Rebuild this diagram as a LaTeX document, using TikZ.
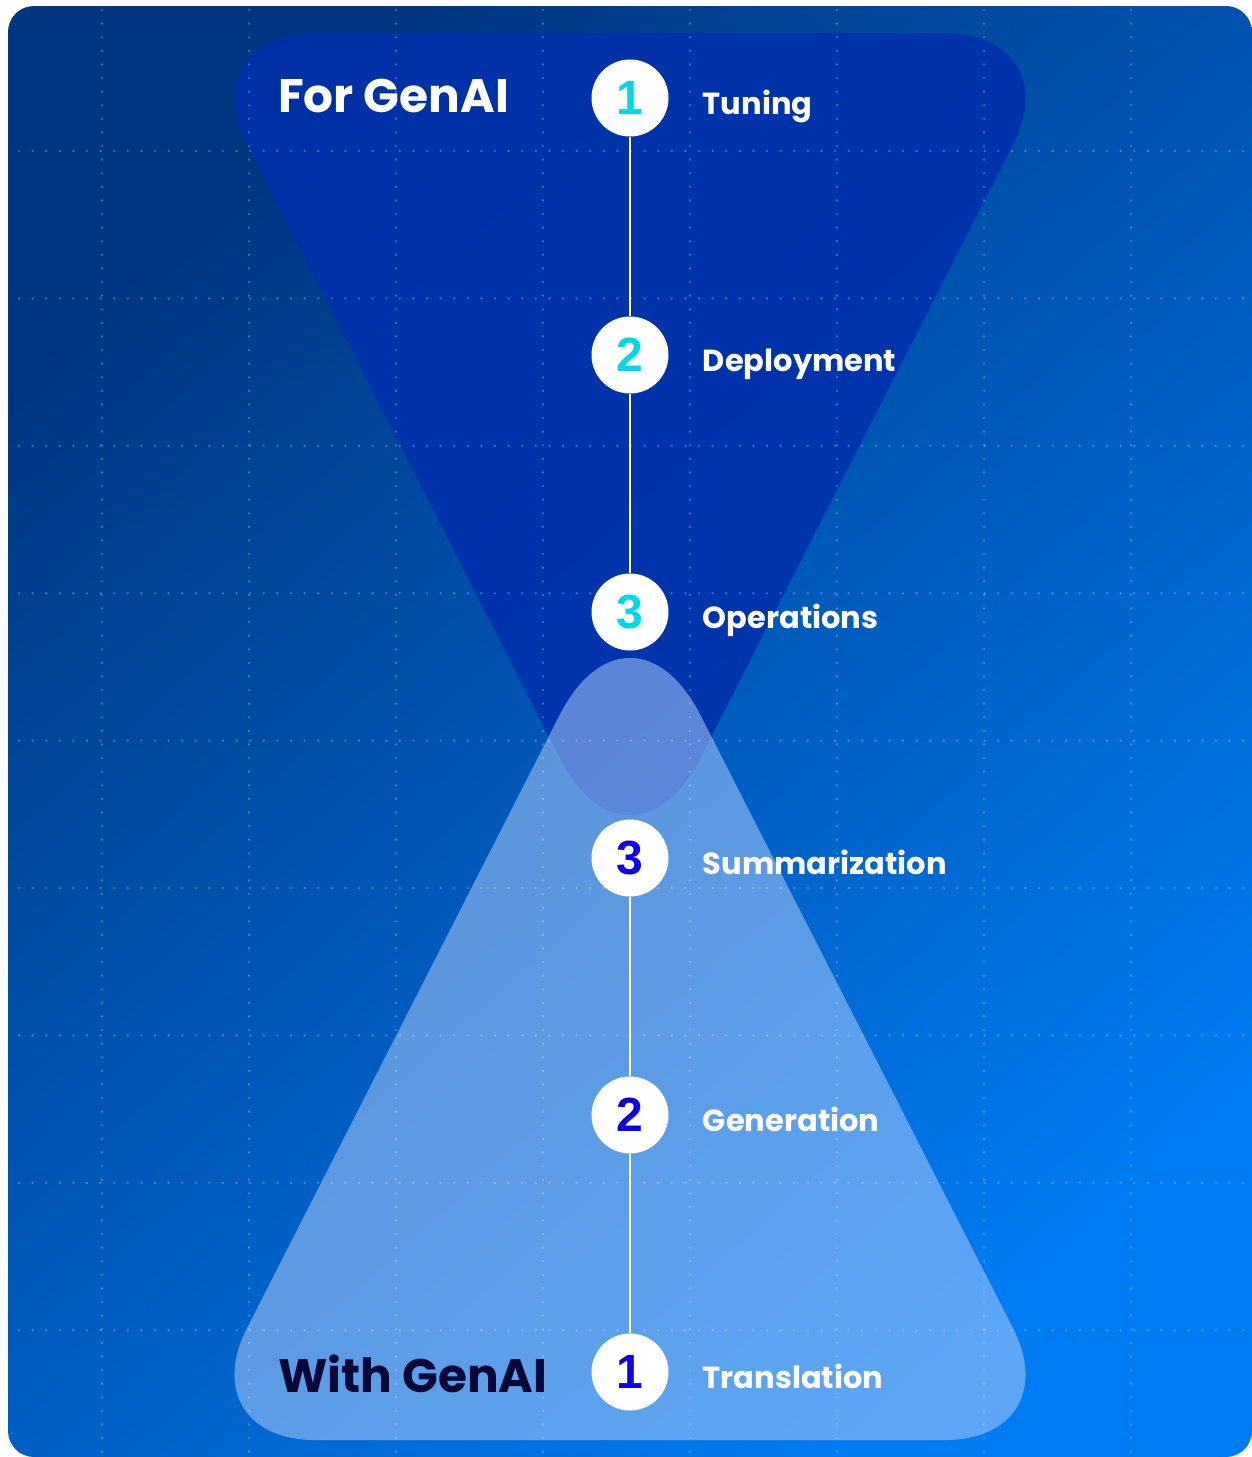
\documentclass[tikz,border=0pt]{standalone}
\usepackage{fontspec}
\setmainfont{Poppins}
\newfontfamily\digitfont{Liberation Sans}
\usetikzlibrary{positioning}

\definecolor{bgdark}{RGB}{0,54,128}
\definecolor{bglight}{RGB}{0,124,242}
\definecolor{funneltop}{RGB}{0,48,172}
\definecolor{funnelbot}{RGB}{169,201,249}
\definecolor{numcyan}{RGB}{0,216,230}
\definecolor{numblue}{RGB}{16,0,230}
\definecolor{navytext}{RGB}{8,8,56}

\tikzset{
  every step/.style={circle, fill=white, minimum size=77pt, inner sep=0pt,
    font=\digitfont\fontsize{48}{48}\selectfont\bfseries},
  step label/.style={anchor=west, inner sep=0pt, text height=32pt, text depth=0pt,
    text=white, font=\fontsize{30.5}{30.5}\selectfont\bfseries},
  heading/.style={anchor=base west, inner sep=0pt, font=\fontsize{47}{47}\selectfont\bfseries},
  grid dots/.style={white, opacity=0.3, line width=2.4pt, line cap=round,
    dash pattern=on 0pt off 13.6pt},
  link/.style={white, line width=2pt}
}

\begin{document}
\begin{tikzpicture}[x=1pt, y=-1pt]
\useasboundingbox (0,0) rectangle (1252,1457);

% background card
\shade [rounded corners=26pt, top color=bgdark, bottom color=bglight, shading angle=42]
  (8,6) rectangle (1252,1457);

% the two funnels
\fill [funneltop, opacity=0.88]
  (630,33) [rounded corners=125pt] -- (1070,33)
  [rounded corners=155pt] -- (630,896) [rounded corners=125pt] -- (190,33) -- cycle;
\fill [funnelbot, opacity=0.55]
  (630,1440) [rounded corners=125pt] -- (1070,1440)
  [rounded corners=155pt] -- (630,577) [rounded corners=125pt] -- (190,1440) -- cycle;

% dotted grid
\foreach \gx in {102,249,...,1131}
  \draw [grid dots] (\gx,10) -- (\gx,1457);
\foreach \gy in {151,298.4,...,1332}
  \draw [grid dots] (19,\gy) -- (1252,\gy);

% steps
\foreach \n/\y in {1/98,2/355,3/612}
  \node [every step, text=numcyan] (for-\n) at (630,\y) {\n};
\foreach \n/\y in {3/858,2/1115,1/1372}
  \node [every step, text=numblue] (with-\n) at (630,\y) {\n};

\draw [link] (for-1) -- (for-2);
\draw [link] (for-2) -- (for-3);
\draw [link] (with-3) -- (with-2);
\draw [link] (with-2) -- (with-1);

\foreach \n/\l in {1/Tuning,2/Deployment,3/Operations}
  \node [step label, right=34pt of for-\n] (for-label-\n) {\l};
\foreach \n/\l in {3/Summarization,2/Generation,1/Translation}
  \node [step label, right=34pt of with-\n] (with-label-\n) {\l};

\node [heading, text=white] (for-title) at (278,112) {For GenAI};
\node [heading, text=navytext] (with-title) at (278,1392) {With GenAI};
\end{tikzpicture}
\end{document}
